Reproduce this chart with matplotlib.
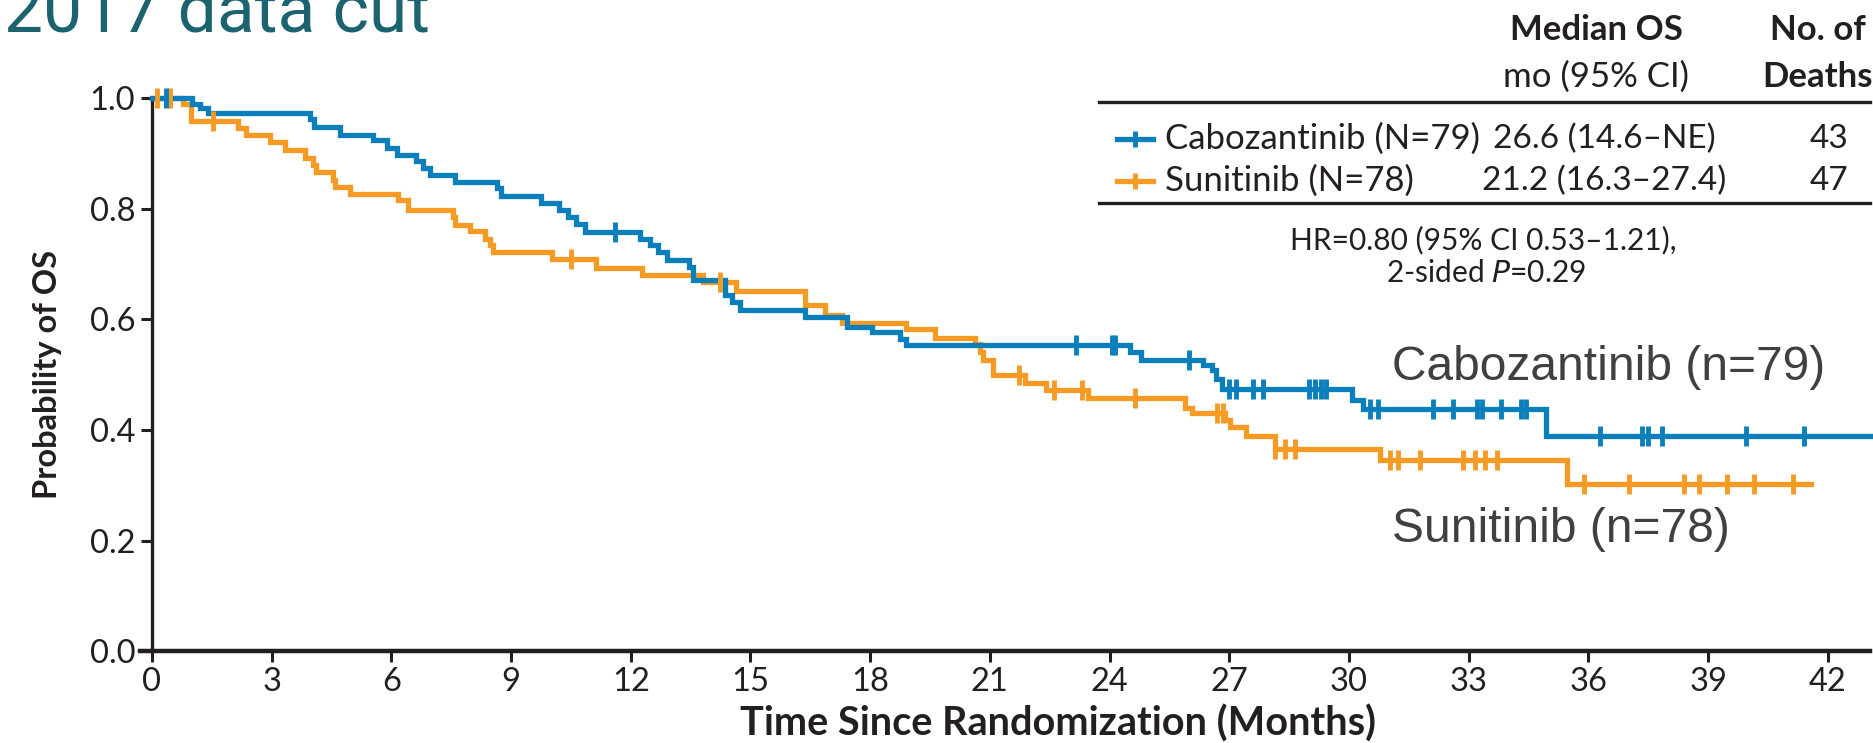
import numpy as np
import matplotlib
matplotlib.use("Agg")
import matplotlib.pyplot as plt
from matplotlib.lines import Line2D

W, H, DPI = 1874, 743, 100

# ---- Kaplan-Meier data (months, survival probability after each drop) ----
cabo_months = [0, 1.0, 1.2, 1.4, 3.96, 4.05, 4.71, 5.54, 5.88, 6.13, 6.63, 6.80,
               6.97, 7.59, 8.64, 8.76, 9.76, 10.2, 10.43, 10.63, 10.85, 12.23,
               12.48, 12.69, 12.9, 13.47, 13.55, 14.36, 14.55, 14.75, 16.37,
               17.41, 18.04, 18.75, 18.91, 24.51, 24.8, 26.35, 26.56, 26.68,
               26.81, 30.07, 30.36, 34.95]
cabo_surv = [1.0, 0.990, 0.982, 0.973, 0.962, 0.948, 0.933, 0.924, 0.909, 0.897,
             0.886, 0.873, 0.860, 0.849, 0.837, 0.823, 0.811, 0.797, 0.785,
             0.773, 0.758, 0.746, 0.734, 0.721, 0.707, 0.695, 0.671, 0.644,
             0.632, 0.616, 0.605, 0.586, 0.577, 0.565, 0.553, 0.541, 0.526,
             0.517, 0.508, 0.493, 0.474, 0.455, 0.437, 0.390]
cabo_censored = [0.35, 11.6, 23.15, 24.05, 24.13, 26.0, 27.0, 27.18, 27.6, 27.85,
                 29.0, 29.15, 29.3, 29.42, 30.53, 30.73, 32.11, 32.61, 33.2,
                 33.33, 33.82, 34.32, 34.45, 36.3, 37.35, 37.5, 37.85, 39.96, 41.4]
cabo_end = 43.06

suni_months = [0, 0.78, 0.98, 2.16, 2.36, 2.96, 3.33, 3.83, 4.04, 4.12, 4.54,
               4.58, 4.96, 6.17, 6.42, 7.55, 7.59, 7.97, 8.35, 8.47, 8.55, 10.02,
               11.14, 12.27, 13.8, 14.65, 16.37, 16.87, 17.29, 18.9, 19.62, 20.63,
               20.75, 20.84, 21.08, 21.88, 22.42, 23.47, 25.89, 26.06, 26.89,
               27.02, 27.43, 28.15, 30.78, 35.46]
suni_surv = [1.0, 0.990, 0.958, 0.945, 0.933, 0.921, 0.906, 0.892, 0.879, 0.866,
             0.852, 0.840, 0.827, 0.815, 0.797, 0.785, 0.770, 0.759, 0.746,
             0.734, 0.721, 0.709, 0.692, 0.680, 0.667, 0.651, 0.626, 0.607,
             0.594, 0.582, 0.567, 0.556, 0.541, 0.526, 0.499, 0.484, 0.472,
             0.457, 0.439, 0.430, 0.418, 0.406, 0.390, 0.366, 0.345, 0.302]
suni_censored = [0.12, 0.45, 1.52, 10.5, 14.23, 21.73, 22.6, 23.3, 24.64, 26.7,
                 26.85, 28.15, 28.4, 28.65, 31.03, 31.24, 31.78, 32.86, 33.16,
                 33.41, 33.7, 35.9, 37.03, 38.41, 38.78, 39.47, 40.16, 41.12]
suni_end = 41.58

x_ticks = list(range(0, 43, 3))
y_ticks = [0.0, 0.2, 0.4, 0.6, 0.8, 1.0]
y_tick_labels = ["0.0", "0.2", "0.4", "0.6", "0.8", "1.0"]

# table contents
col_headers = [("Median OS", "mo (95% CI)"), ("No. of", "Deaths")]
arm_labels = ["Cabozantinib (N=79)", "Sunitinib (N=78)"]
median_os = ["26.6 (14.6\u2013NE)", "21.2 (16.3\u201327.4)"]
deaths = ["43", "47"]

BLUE = "#0a7fbb"
ORANGE = "#f59b23"
INK = "#231f20"
BODY = ["Lato", "DejaVu Sans"]
ARIAL = ["Liberation Sans", "DejaVu Sans"]

fig = plt.figure(figsize=(W / DPI, H / DPI), dpi=DPI)


def fx(x):
    return x / W


def fy(y):
    return 1 - y / H


# axes box: x from -0.3 to 43.06 months, y from 0 to 1.05
y0_px, ytop_px = 651.3, 70.3
ax = fig.add_axes([fx(140), fy(y0_px), (1870 - 140) / W, (y0_px - ytop_px) / H])
ax.set_xlim(-0.3, 43.06)
ax.set_ylim(0, 1.05)

for name in ("top", "right"):
    ax.spines[name].set_visible(False)
ax.spines["left"].set_position(("data", 0))
ax.spines["left"].set_bounds(0, 1)
ax.spines["left"].set_linewidth(2.4)
ax.spines["left"].set_color(INK)
ax.spines["bottom"].set_linewidth(3.2)
ax.spines["bottom"].set_color(INK)

ax.set_xticks(x_ticks)
ax.set_xticklabels([str(t) for t in x_ticks])
ax.set_yticks(y_ticks)
ax.set_yticklabels(y_tick_labels)
ax.tick_params(axis="both", direction="out", length=8, width=2.2, color=INK,
               labelcolor=INK, labelsize=23.5)
ax.tick_params(axis="x", pad=3)
ax.tick_params(axis="y", pad=4)
for lab in ax.get_xticklabels() + ax.get_yticklabels():
    lab.set_family(BODY)


def km(months, surv, end, censored, color):
    xs = list(months) + [end]
    ys = list(surv) + [surv[-1]]
    ax.step(xs, ys, where="post", color=color, lw=3.8, clip_on=False,
            solid_joinstyle="miter", zorder=3)
    m = np.asarray(months)
    s = np.asarray(surv)
    idx = np.searchsorted(m, censored, side="right") - 1
    ax.plot(censored, s[idx], ls="none", marker="|", ms=15, mew=3.5,
            color=color, clip_on=False, zorder=4)


km(suni_months, suni_surv, suni_end, suni_censored, ORANGE)
km(cabo_months, cabo_surv, cabo_end, cabo_censored, BLUE)

# axis titles
fig.text(fx(1057.6), fy(723.5), "Time Since Randomization (Months)", family=BODY,
         weight="bold", fontsize=28.5, color=INK, ha="center", va="center")
fig.text(fx(47.8), fy(374.5), "Probability of OS", family=BODY, weight="bold",
         fontsize=23.5, color=INK, ha="center", va="center", rotation=90)

# title
fig.text(fx(4), fy(31), "2017 data cut", family=["Roboto", "DejaVu Sans"],
         fontsize=50, color="#1c6370", ha="left", va="baseline")

# table header
for (top, bot), cx, bold2 in zip(col_headers, [1596, 1818], [False, True]):
    fig.text(fx(cx), fy(30), top, family=BODY, weight="bold", fontsize=25,
             color=INK, ha="center", va="center")
    fig.text(fx(cx), fy(77), bot, family=BODY,
             weight="bold" if bold2 else "normal", fontsize=25,
             color=INK, ha="center", va="center")

for yy in (101.6, 203):
    fig.add_artist(Line2D([fx(1099), fx(1870)], [fy(yy), fy(yy)], color=INK, lw=2.4))

row_y = [139, 181]
for i, color in enumerate([BLUE, ORANGE]):
    yy = fy(row_y[i])
    fig.add_artist(Line2D([fx(1117), fx(1153)], [yy, yy], color=color, lw=3.8))
    fig.add_artist(Line2D([fx(1135)], [yy], color=color, marker="|", ms=12, mew=3.5))
    fig.text(fx(1165), yy, arm_labels[i], family=BODY, fontsize=25, color=INK,
             ha="left", va="center")
    fig.text(fx(1604), yy, median_os[i], family=BODY, fontsize=24, color=INK,
             ha="center", va="center")
    fig.text(fx(1829), yy, deaths[i], family=BODY, fontsize=24, color=INK,
             ha="center", va="center")

fig.text(fx(1483), fy(240), "HR=0.80 (95% CI 0.53\u20131.21),", family=BODY,
         fontsize=21.5, color=INK, ha="center", va="center")
fig.text(fx(1486), fy(273), "2-sided $\\mathit{P}$=0.29", family=BODY,
         fontsize=21.5, color=INK, ha="center", va="center")

# arm labels on the curves
fig.text(fx(1392), fy(368), "Cabozantinib (n=79)", family=ARIAL,
         fontsize=34.5, color="#404040", ha="left", va="center")
fig.text(fx(1392), fy(530), "Sunitinib (n=78)", family=ARIAL,
         fontsize=34.5, color="#404040", ha="left", va="center")

fig.savefig("out.png", dpi=DPI)
